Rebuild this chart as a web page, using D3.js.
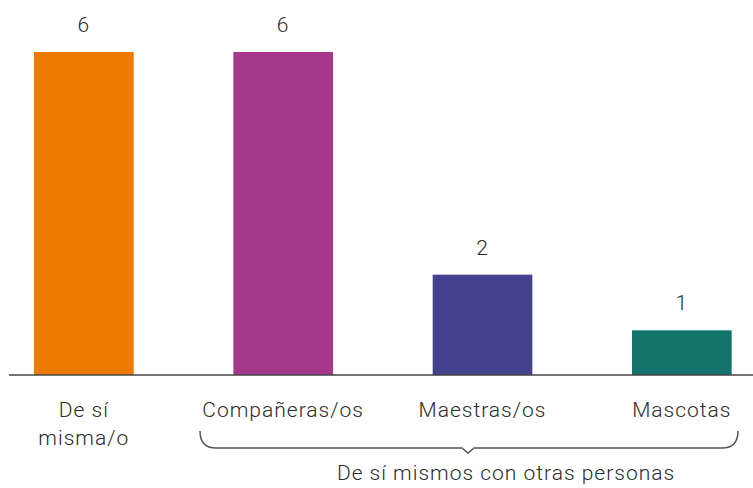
<!DOCTYPE html>
<html><head><meta charset="utf-8">
<script src="https://cdn.jsdelivr.net/npm/d3@7"></script>
<style>body{margin:0;background:#fff}text{font-family:Roboto,"Open Sans",sans-serif;font-weight:300;fill:#2b2b2b;letter-spacing:1px}</style>
</head><body>
<svg id="c" width="753" height="488"></svg>
<script>
const categories = [["De sí","misma/o"],["Compañeras/os"],["Maestras/os"],["Mascotas"]];
const values = [6,6,2,1];
const colors = ["#EC7A00","#A5388B","#424290","#11736B"];
const groupLabel = "De sí mismos con otras personas";

const svg = d3.select("#c");
const axisY = 375;
const x = d3.scaleBand().domain(d3.range(values.length)).range([-15.8, 781.5]).paddingInner(0.5).paddingOuter(0.25);
const y = d3.scaleLinear().domain([0,6]).range([386,52]);

svg.selectAll("rect.bar").data(values).join("rect")
  .attr("x",(d,i)=>x(i)).attr("width",x.bandwidth())
  .attr("y",d=>y(d)).attr("height",d=>axisY-y(d))
  .attr("fill",(d,i)=>colors[i]);

svg.append("line").attr("x1",9).attr("x2",753).attr("y1",axisY).attr("y2",axisY)
  .attr("stroke","#444").attr("stroke-width",1.5);

svg.selectAll("text.val").data(values).join("text")
  .attr("x",(d,i)=>x(i)+x.bandwidth()/2).attr("y",d=>y(d)-20)
  .attr("text-anchor","middle").attr("font-size",21).text(d=>d);

const lab = svg.selectAll("text.cat").data(categories).join("text")
  .attr("text-anchor","middle").attr("font-size",21);
lab.each(function(lines,i){
  const t=d3.select(this);
  lines.forEach((l,j)=>t.append("tspan").attr("x",x(i)+x.bandwidth()/2).attr("y",417+j*28).text(l));
});

// brace
const bx0=200, bx1=738, by0=431, by1=448, tipX=468, r=16;
const p = d3.path();
p.moveTo(bx0,by0);
p.quadraticCurveTo(bx0,by1,bx0+r,by1);
p.lineTo(tipX-6,by1);
p.lineTo(tipX,by1+5);
p.lineTo(tipX+6,by1);
p.lineTo(bx1-r,by1);
p.quadraticCurveTo(bx1,by1,bx1,by0);
svg.append("path").attr("d",p.toString()).attr("fill","none").attr("stroke","#555").attr("stroke-width",1.5);

svg.append("text").attr("x",506).attr("y",480).attr("text-anchor","middle").attr("font-size",21).text(groupLabel);
</script>
</body></html>
